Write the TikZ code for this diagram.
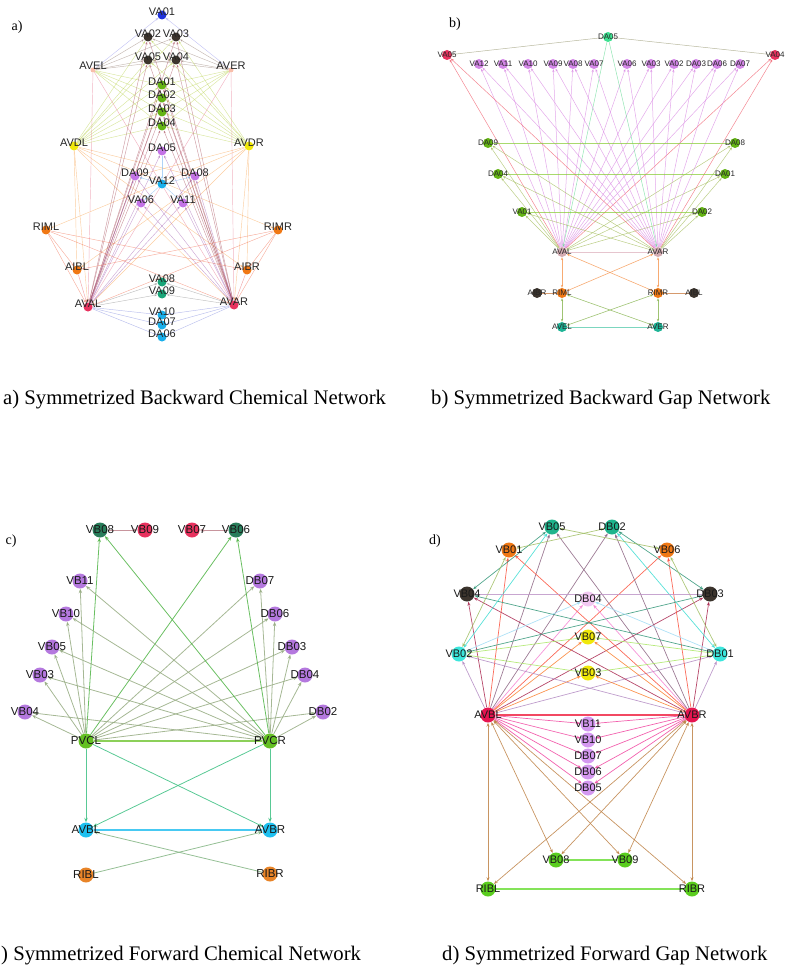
\documentclass[tikz,border=0pt]{standalone}
\usepackage{fontspec}
\setmainfont{Liberation Serif}
\setsansfont{Liberation Sans}
\usetikzlibrary{arrows.meta}
\pgfdeclarelayer{bg}
\pgfsetlayers{bg,main}
% colours
\definecolor{cBlue}{RGB}{30,50,220}
\definecolor{cDark}{RGB}{60,52,45}
\definecolor{cGreen}{RGB}{100,180,20}
\definecolor{cYel}{RGB}{240,232,10}
\definecolor{cViol}{RGB}{195,115,230}
\definecolor{cCyan}{RGB}{25,175,235}
\definecolor{cOra}{RGB}{240,120,20}
\definecolor{cTeal}{RGB}{25,165,120}
\definecolor{cPink}{RGB}{232,50,95}
\definecolor{cSalm}{RGB}{248,190,170}
\definecolor{cMint}{RGB}{60,225,145}
\definecolor{cLViol}{RGB}{212,135,232}
\definecolor{cRosy}{RGB}{212,172,178}
\definecolor{cTeal2}{RGB}{30,180,150}
\definecolor{cDkGreen}{RGB}{40,125,90}
\definecolor{cCViol}{RGB}{180,120,222}
\definecolor{cCGreen}{RGB}{100,192,35}
\definecolor{cCCyan}{RGB}{30,192,240}
\definecolor{cCOra}{RGB}{232,132,40}
\definecolor{cDTeal}{RGB}{30,180,140}
\definecolor{cLPink}{RGB}{242,200,242}
\definecolor{cDCyan}{RGB}{60,230,220}
\definecolor{cCrim}{RGB}{230,20,80}
\definecolor{cDViol}{RGB}{212,152,240}
\definecolor{cDGreen}{RGB}{90,205,30}
% edge colours
\definecolor{eLav}{RGB}{150,150,235}
\definecolor{eGB}{RGB}{150,128,118}
\definecolor{eYG}{RGB}{185,210,80}
\definecolor{ePk}{RGB}{230,120,145}
\definecolor{eDR}{RGB}{165,75,90}
\definecolor{ePu}{RGB}{165,100,180}
\definecolor{eOr}{RGB}{248,165,85}
\definecolor{eOR}{RGB}{240,110,80}
\definecolor{eGr}{RGB}{140,140,140}
\definecolor{eBL}{RGB}{125,135,220}
\definecolor{eLB}{RGB}{110,175,240}
\definecolor{eRd}{RGB}{232,95,100}
\definecolor{bVi}{RGB}{218,140,228}
\definecolor{bRd}{RGB}{240,95,110}
\definecolor{bMi}{RGB}{110,220,155}
\definecolor{bOl}{RGB}{160,160,125}
\definecolor{bGr}{RGB}{140,205,60}
\definecolor{bOG}{RGB}{165,190,95}
\definecolor{bRo}{RGB}{222,178,190}
\definecolor{bOr}{RGB}{245,150,80}
\definecolor{bBr}{RGB}{200,120,60}
\definecolor{bGn}{RGB}{135,180,80}
\definecolor{bTe}{RGB}{80,200,170}
\definecolor{cGG}{RGB}{150,172,130}
\definecolor{cGa}{RGB}{80,180,70}
\definecolor{cRo}{RGB}{190,130,140}
\definecolor{cGL}{RGB}{120,200,60}
\definecolor{cTG}{RGB}{60,192,130}
\definecolor{cCy}{RGB}{40,192,240}
\definecolor{cGG2}{RGB}{130,180,130}
\definecolor{dMg}{RGB}{240,70,160}
\definecolor{dRd}{RGB}{240,40,70}
\definecolor{dBr}{RGB}{190,130,70}
\definecolor{dGn}{RGB}{110,222,60}
\definecolor{dOr}{RGB}{250,130,50}
\definecolor{dPk}{RGB}{245,130,210}
\definecolor{dRe}{RGB}{250,80,60}
\definecolor{dDR}{RGB}{170,40,80}
\definecolor{dGP}{RGB}{140,100,130}
\definecolor{dLP}{RGB}{180,140,195}
\definecolor{dTe}{RGB}{50,150,120}
\definecolor{dCy}{RGB}{60,220,210}
\definecolor{dOl}{RGB}{160,190,100}
\definecolor{dLa}{RGB}{190,150,200}
\definecolor{dLB}{RGB}{160,220,245}
\definecolor{dLG}{RGB}{170,230,100}
\tikzset{
 na/.style={circle,inner sep=0pt,minimum size=9pt,draw=none},
 nal/.style={font=\fontsize{11}{11}\selectfont\sffamily,text=black!85,inner sep=0pt,yshift=3pt},
 nas/.style={circle,inner sep=0pt,minimum size=5pt,draw=none},
 nasl/.style={font=\fontsize{11}{11}\selectfont\sffamily,text=black!85,inner sep=0pt,yshift=4pt},
 nb/.style={circle,inner sep=0pt,minimum size=10pt,draw=none},
 nbl/.style={font=\fontsize{8}{8}\selectfont\sffamily,text=black!85,inner sep=0pt,yshift=0.5pt},
 nc/.style={circle,inner sep=0pt,minimum size=15pt,draw=none},
 ncl/.style={font=\fontsize{11.5}{11.5}\selectfont\sffamily,text=black!90,inner sep=0pt,yshift=0.5pt},
 nd/.style={circle,inner sep=0pt,minimum size=15pt,draw=none},
 ndl/.style={font=\fontsize{11}{11}\selectfont\sffamily,text=black!90,inner sep=0pt,yshift=0.5pt},
 ea/.style={line width=0.45pt,opacity=0.55,-{Stealth[length=3pt,width=2.2pt]}},
 eb/.style={line width=0.5pt,opacity=0.75,-{Stealth[length=3pt,width=2.4pt]}},
 ebb/.style={line width=0.6pt,opacity=0.8,{Stealth[length=3pt,width=2.4pt]}-{Stealth[length=3pt,width=2.4pt]}},
 ec/.style={line width=0.8pt,opacity=0.85,-{Stealth[length=4.5pt,width=3.5pt]}},
 ed/.style={line width=0.7pt,opacity=0.85,-{Stealth[length=4pt,width=3pt]}},
 edd/.style={line width=0.7pt,opacity=0.85,{Stealth[length=4pt,width=3pt]}-{Stealth[length=4pt,width=3pt]}},
 plab/.style={font=\fontsize{14}{14}\selectfont,inner sep=0pt},
 capt/.style={font=\fontsize{20.7}{20.7}\selectfont,inner sep=0pt,anchor=west},
}
\newcommand\gn[5]{\node[#1,fill=#4,label={[#1l]center:#5}] (#2) at (#3) {};}
\begin{document}
\begin{tikzpicture}[x=1pt,y=-1pt]
\useasboundingbox (0,0) rectangle (787,968);
% ================= panel a =================
\node[plab] (la) at (17,27) {a)};
\gn{na}{aVA01}{162,15}{cBlue}{VA01}
\gn{na}{aVA02}{148,37}{cDark}{VA02}
\gn{na}{aVA03}{176,37}{cDark}{VA03}
\gn{na}{aVA05}{148,60}{cDark}{VA05}
\gn{na}{aVA04}{176,60}{cDark}{VA04}
\gn{nas}{aAVEL}{93,70}{cSalm}{AVEL}
\gn{nas}{aAVER}{231,70}{cSalm}{AVER}
\gn{na}{aDA01}{162,85}{cGreen}{DA01}
\gn{na}{aDA02}{162,98}{cGreen}{DA02}
\gn{na}{aDA03}{162,112}{cGreen}{DA03}
\gn{na}{aDA04}{162,126}{cGreen}{DA04}
\gn{na}{aAVDL}{74,146}{cYel}{AVDL}
\gn{na}{aAVDR}{249,146}{cYel}{AVDR}
\gn{na}{aDA05}{162,151}{cViol}{DA05}
\gn{na}{aDA09}{135,176}{cViol}{DA09}
\gn{na}{aDA08}{195,176}{cViol}{DA08}
\gn{na}{aVA12}{162,184}{cCyan}{VA12}
\gn{na}{aVA06}{141,203}{cViol}{VA06}
\gn{na}{aVA11}{183,203}{cViol}{VA11}
\gn{na}{aRIML}{46,230}{cOra}{RIML}
\gn{na}{aRIMR}{278,230}{cOra}{RIMR}
\gn{na}{aAIBL}{77,270}{cOra}{AIBL}
\gn{na}{aAIBR}{247,270}{cOra}{AIBR}
\gn{na}{aVA08}{162,282}{cTeal}{VA08}
\gn{na}{aVA09}{162,294}{cTeal}{VA09}
\gn{na}{aAVAL}{88,307}{cPink}{AVAL}
\gn{na}{aAVAR}{234,305}{cPink}{AVAR}
\gn{na}{aVA10}{162,315}{cCyan}{VA10}
\gn{na}{aDA07}{162,325}{cCyan}{DA07}
\gn{na}{aDA06}{162,337}{cCyan}{DA06}
\begin{pgfonlayer}{bg}
\draw[ea,eLav] (aAVEL) -- (aVA01);
\draw[ea,eLav] (aAVER) -- (aVA01);
\foreach \s in {aAVEL,aAVER}{
  \foreach \t in {aVA02,aVA03,aVA04,aVA05}{\draw[ea,eGB] (\s) -- (\t);}
  \foreach \t in {aDA01,aDA02,aDA03,aDA04}{\draw[ea,eYG] (\s) -- (\t);}
  \foreach \t in {aAVAL,aAVAR}{\draw[ea,ePk] (\s) -- (\t);}
}
\foreach \s in {aAVDL,aAVDR}{
  \foreach \t in {aVA02,aVA03,aVA04,aVA05,aDA01,aDA02,aDA03,aDA04}{\draw[ea,eYG] (\s) -- (\t);}
  \foreach \t in {aAIBL,aAIBR,aAVAL,aAVAR}{\draw[ea,eOr] (\s) -- (\t);}
}
\draw[ea,eOr] (aAVDL) -- (aRIMR);
\draw[ea,eOr] (aAVDR) -- (aRIML);
\draw[ea,eOr] (aAVDL) -- (aDA08);
\draw[ea,eOr] (aAVDR) -- (aDA09);
\foreach \s in {aAVAL,aAVAR}{
  \foreach \t in {aVA02,aVA03,aVA04,aVA05,aDA01,aDA02,aDA03,aDA04}{\draw[ea,eDR] (\s) -- (\t);}
  \foreach \t in {aDA05,aDA09,aDA08,aVA06,aVA11}{\draw[ea,ePu] (\s) -- (\t);}
  \foreach \t in {aVA08,aVA09}{\draw[ea,eGr] (\s) -- (\t);}
  \foreach \t in {aVA10,aDA07,aDA06}{\draw[ea,eBL] (\s) -- (\t);}
}
\foreach \s in {aRIML,aRIMR}{
  \foreach \t in {aAVAL,aAVAR,aAIBL,aAIBR}{\draw[ea,eOR] (\s) -- (\t);}
}
\draw[ea,eRd] (aAIBL) -- (aAVAL);
\draw[ea,eRd] (aAIBR) -- (aAVAR);
\draw[ea,eLB] (aDA05) -- (aVA12);
\foreach \t in {aVA06,aVA11,aDA09,aDA08}{\draw[ea,eLB] (aVA12) -- (\t);}
\end{pgfonlayer}
% ================= panel b =================
\node[plab] (lb) at (455,24) {b)};
\gn{nb}{bDA05}{608,37}{cMint}{DA05}
\gn{nb}{bVA05}{447,55}{cPink}{VA05}
\gn{nb}{bVA04}{775,55}{cPink}{VA04}
\gn{nb}{bVA12}{479,64}{cLViol}{VA12}
\gn{nb}{bVA11}{503,64}{cLViol}{VA11}
\gn{nb}{bVA10}{528,64}{cLViol}{VA10}
\gn{nb}{bVA09}{553,64}{cLViol}{VA09}
\gn{nb}{bVA08}{573,64}{cLViol}{VA08}
\gn{nb}{bVA07}{594,64}{cLViol}{VA07}
\gn{nb}{bVA06}{627,64}{cLViol}{VA06}
\gn{nb}{bVA03}{651,64}{cLViol}{VA03}
\gn{nb}{bVA02}{674,64}{cLViol}{VA02}
\gn{nb}{bDA03}{696,64}{cLViol}{DA03}
\gn{nb}{bDA06}{717,64}{cLViol}{DA06}
\gn{nb}{bDA07}{740,64}{cLViol}{DA07}
\gn{nb}{bDA09}{488,143}{cGreen}{DA09}
\gn{nb}{bDA08}{735,143}{cGreen}{DA08}
\gn{nb}{bDA04}{498,174}{cGreen}{DA04}
\gn{nb}{bDA01}{725,174}{cGreen}{DA01}
\gn{nb}{bVA01}{522,212}{cGreen}{VA01}
\gn{nb}{bDA02}{702,212}{cGreen}{DA02}
\gn{nb}{bAVAL}{562,252}{cRosy}{AVAL}
\gn{nb}{bAVAR}{658,252}{cRosy}{AVAR}
\gn{nb}{bAIBR}{537,293}{cDark}{AIBR}
\gn{nb}{bRIML}{562,293}{cOra}{RIML}
\gn{nb}{bRIMR}{658,293}{cOra}{RIMR}
\gn{nb}{bAIBL}{694,293}{cDark}{AIBL}
\gn{nb}{bAVEL}{562,327}{cTeal2}{AVEL}
\gn{nb}{bAVER}{658,327}{cTeal2}{AVER}
\begin{pgfonlayer}{bg}
\foreach \s in {bAVAL,bAVAR}{
  \foreach \t in {bVA12,bVA11,bVA10,bVA09,bVA08,bVA07,bVA06,bVA03,bVA02,bDA03,bDA06,bDA07}{\draw[eb,bVi] (\s) -- (\t);}
  \foreach \t in {bVA05,bVA04}{\draw[eb,bRd] (\s) -- (\t);}
  \draw[eb,bMi] (bDA05) -- (\s);
  \foreach \t in {bDA09,bDA08,bDA04,bDA01,bVA01,bDA02}{\draw[eb,bOG] (\s) -- (\t);}
}
\draw[eb,bOl,-] (bDA05) -- (bVA05);
\draw[eb,bOl,-] (bDA05) -- (bVA04);
\draw[eb,bGr,-,line width=0.8pt] (bDA09) -- (bDA08);
\draw[eb,bGr,-,line width=0.8pt] (bDA04) -- (bDA01);
\draw[eb,bGr,-,line width=0.8pt] (bVA01) -- (bDA02);
\draw[eb,bRo,-,line width=0.9pt] (bAVAL) -- (bAVAR);
\draw[ebb,bOr] (bRIML) -- (bAVAL);
\draw[ebb,bOr] (bRIMR) -- (bAVAR);
\draw[ebb,bOr] (bRIML) -- (bAVAR);
\draw[ebb,bOr] (bRIMR) -- (bAVAL);
\draw[eb,bBr,-,line width=0.9pt] (bAIBR) -- (bRIML);
\draw[eb,bBr,-,line width=0.9pt] (bRIMR) -- (bAIBL);
\draw[ebb,bGn] (bRIML) -- (bAVEL);
\draw[ebb,bGn] (bRIMR) -- (bAVER);
\draw[ebb,bGn] (bRIML) -- (bAVER);
\draw[ebb,bGn] (bRIMR) -- (bAVEL);
\draw[eb,bTe,-,line width=0.9pt] (bAVEL) -- (bAVER);
\end{pgfonlayer}
% ================= panel c =================
\node[plab] (lc) at (11,541) {c)};
\gn{nc}{cVB08}{100,530}{cDkGreen}{VB08}
\gn{nc}{cVB09}{145,530}{cPink}{VB09}
\gn{nc}{cVB07}{192,530}{cPink}{VB07}
\gn{nc}{cVB06}{236,530}{cDkGreen}{VB06}
\gn{nc}{cVB11}{80,581}{cCViol}{VB11}
\gn{nc}{cVB10}{66,614}{cCViol}{VB10}
\gn{nc}{cVB05}{52,647}{cCViol}{VB05}
\gn{nc}{cVB03}{40,675}{cCViol}{VB03}
\gn{nc}{cVB04}{25,712}{cCViol}{VB04}
\gn{nc}{cDB07}{260,581}{cCViol}{DB07}
\gn{nc}{cDB06}{275,614}{cCViol}{DB06}
\gn{nc}{cDB03}{292,647}{cCViol}{DB03}
\gn{nc}{cDB04}{305,675}{cCViol}{DB04}
\gn{nc}{cDB02}{323,712}{cCViol}{DB02}
\gn{nc}{cPVCL}{86,741}{cCGreen}{PVCL}
\gn{nc}{cPVCR}{270,741}{cCGreen}{PVCR}
\gn{nc}{cAVBL}{86,830}{cCCyan}{AVBL}
\gn{nc}{cAVBR}{270,830}{cCCyan}{AVBR}
\gn{nc}{cRIBL}{86,875}{cCOra}{RIBL}
\gn{nc}{cRIBR}{270,874}{cCOra}{RIBR}
\begin{pgfonlayer}{bg}
\foreach \s in {cPVCL,cPVCR}{
  \foreach \t in {cVB11,cVB10,cVB05,cVB03,cVB04,cDB07,cDB06,cDB03,cDB04,cDB02}{\draw[ec,cGG] (\s) -- (\t);}
  \foreach \t in {cVB08,cVB06}{\draw[ec,cGa] (\s) -- (\t);}
  \foreach \t in {cAVBL,cAVBR}{\draw[ec,cTG] (\s) -- (\t);}
}
\draw[ec,cRo] (cVB08) -- (cVB09);
\draw[ec,cRo] (cVB06) -- (cVB07);
\draw[ec,cGL,-,line width=1.2pt] (cPVCL) -- (cPVCR);
\draw[ec,cCy,-,line width=1.2pt] (cAVBL) -- (cAVBR);
\draw[ec,cGG2] (cRIBL) -- (cAVBR);
\draw[ec,cGG2] (cRIBR) -- (cAVBL);
\end{pgfonlayer}
% ================= panel d =================
\node[plab] (ld) at (435,541) {d)};
\gn{nd}{dVB05}{552,527}{cDTeal}{VB05}
\gn{nd}{dDB02}{612,527}{cDTeal}{DB02}
\gn{nd}{dVB01}{509,550}{cOra}{VB01}
\gn{nd}{dVB06}{667,550}{cOra}{VB06}
\gn{nd}{dVB04}{467,594}{cDark}{VB04}
\gn{nd}{dDB03}{710,594}{cDark}{DB03}
\gn{nd}{dDB04}{588,599}{cLPink}{DB04}
\gn{nd}{dVB07}{588,637}{cYel}{VB07}
\gn{nd}{dVB02}{459,654}{cDCyan}{VB02}
\gn{nd}{dDB01}{720,654}{cDCyan}{DB01}
\gn{nd}{dVB03}{588,673}{cYel}{VB03}
\gn{nd}{dAVBL}{488,715}{cCrim}{AVBL}
\gn{nd}{dAVBR}{692,715}{cCrim}{AVBR}
\gn{nd}{dVB11}{588,724}{cDViol}{VB11}
\gn{nd}{dVB10}{588,740}{cDViol}{VB10}
\gn{nd}{dDB07}{588,756}{cDViol}{DB07}
\gn{nd}{dDB06}{588,772}{cDViol}{DB06}
\gn{nd}{dDB05}{588,788}{cDViol}{DB05}
\gn{nd}{dVB08}{556,860}{cDGreen}{VB08}
\gn{nd}{dVB09}{625,860}{cDGreen}{VB09}
\gn{nd}{dRIBL}{488,889}{cDGreen}{RIBL}
\gn{nd}{dRIBR}{692,889}{cDGreen}{RIBR}
\begin{pgfonlayer}{bg}
\foreach \s in {dAVBL,dAVBR}{
  \foreach \t in {dVB11,dVB10,dDB07,dDB06,dDB05}{\draw[ed,dMg] (\s) -- (\t);}
  \foreach \t in {dVB08,dVB09,dRIBL,dRIBR}{\draw[edd,dBr] (\s) -- (\t);}
  \foreach \t in {dVB07,dVB03}{\draw[ed,dOr] (\s) -- (\t);}
  \draw[ed,dPk] (\s) -- (dDB04);
  \foreach \t in {dVB01,dVB06}{\draw[ed,dRe] (\s) -- (\t);}
  \foreach \t in {dVB04,dDB03}{\draw[ed,dDR] (\s) -- (\t);}
  \foreach \t in {dVB05,dDB02}{\draw[ed,dGP] (\s) -- (\t);}
  \foreach \t in {dVB02,dDB01}{\draw[ed,dLP] (\s) -- (\t);}
}
\draw[ed,dRd,-,line width=1.1pt] (dAVBL) -- (dAVBR);
\draw[ed,dGn,-,line width=1.1pt] (dVB08) -- (dVB09);
\draw[ed,dGn,-,line width=1.1pt] (dRIBL) -- (dRIBR);
\draw[edd,dTe] (dVB05) -- (dVB04);
\draw[edd,dTe] (dDB02) -- (dDB03);
\draw[edd,dTe] (dVB04) -- (dDB01);
\draw[edd,dTe] (dDB03) -- (dVB02);
\draw[edd,dCy] (dVB05) -- (dVB02);
\draw[edd,dCy] (dDB02) -- (dDB01);
\draw[edd,dOl] (dVB05) -- (dVB06);
\draw[edd,dOl] (dDB02) -- (dVB01);
\draw[edd,dOl] (dVB01) -- (dVB02);
\draw[edd,dOl] (dVB06) -- (dDB01);
\draw[ed,dLa,-] (dVB04) -- (dDB03);
\draw[ed,dLB] (dVB02) -- (dDB04);
\draw[ed,dLB] (dDB01) -- (dDB04);
\draw[ed,dLG] (dVB02) -- (dVB07);
\draw[ed,dLG] (dDB01) -- (dVB07);
\draw[ed,dLG] (dVB02) -- (dVB03);
\draw[ed,dLG] (dDB01) -- (dVB03);
\end{pgfonlayer}
% ================= captions =================
\node[capt] (capa) at (3,400) {a) Symmetrized Backward Chemical Network};
\node[capt] (capb) at (431,400) {b) Symmetrized Backward Gap Network};
\node[capt] (capc) at (1,956) {) Symmetrized Forward Chemical Network};
\node[capt] (capd) at (442,956) {d) Symmetrized Forward Gap Network};
\end{tikzpicture}
\end{document}
